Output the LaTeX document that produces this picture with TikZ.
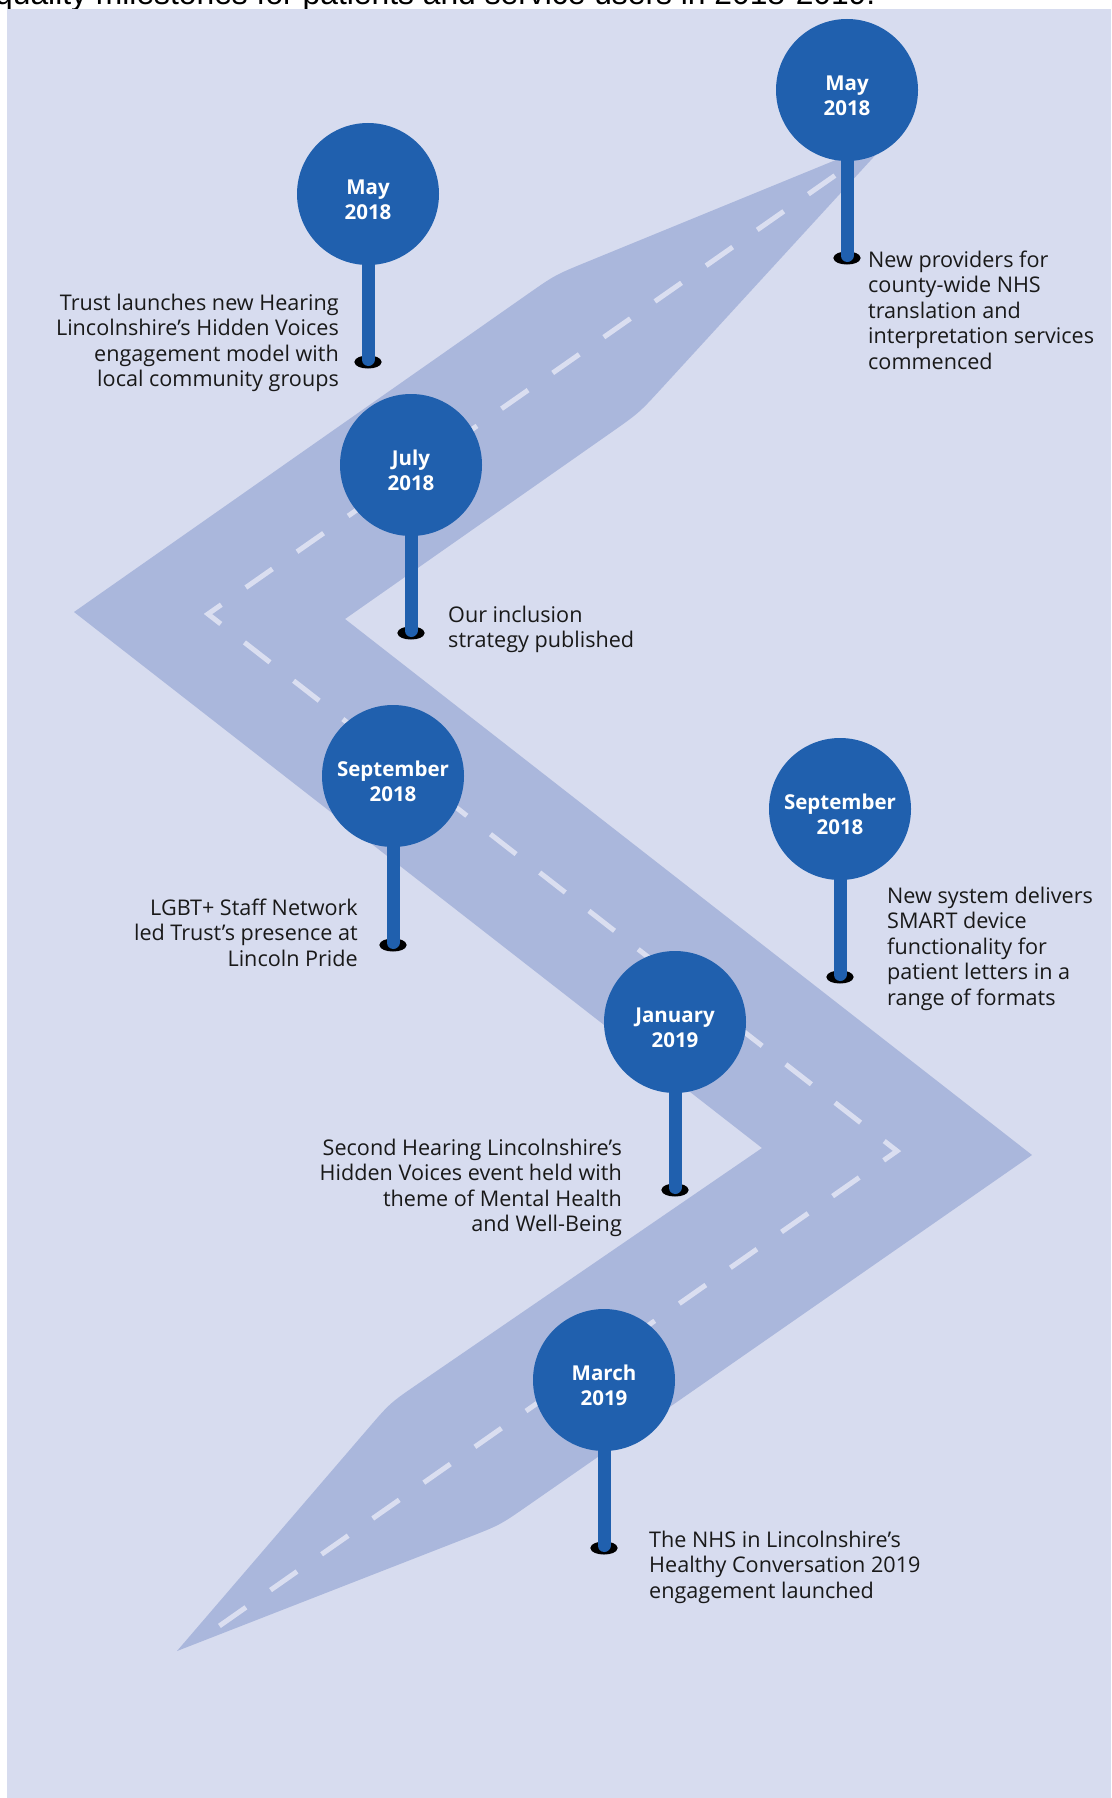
\documentclass[tikz,border=0pt]{standalone}
\usepackage{fontspec}
\setmainfont{Open Sans}
\newfontfamily\topfont{Liberation Sans}
\usetikzlibrary{calc,shapes.geometric}
\definecolor{bgc}{RGB}{215,220,239}
\definecolor{roadc}{RGB}{170,183,220}
\definecolor{dashc}{RGB}{218,222,240}
\definecolor{pinblue}{RGB}{32,96,174}
\definecolor{txt}{RGB}{25,25,25}
\newcommand\capup{\rule{0pt}{27pt}}
\newcommand\lnup{\rule{0pt}{17pt}}
\tikzset{
  pincircle/.style={circle, fill=pinblue, minimum size=142pt, inner sep=0pt, text=white, align=center, font=\bfseries\fontsize{20.5}{25}\selectfont},
  pindot/.style={ellipse, draw=black, fill=black, line width=3pt, minimum width=24pt, minimum height=10pt, inner sep=0pt},
  stem/.style={draw=pinblue, line width=13pt, line cap=round, shorten >=2.5pt},
  notel/.style={anchor=north west, inner sep=0pt, align=left, text=txt, font=\fontsize{21.6}{25.5}\selectfont},
  noter/.style={anchor=north east, inner sep=0pt, align=right, text=txt, font=\fontsize{21.6}{25.5}\selectfont},
  roaddash/.style={draw=dashc, line width=5pt, dash pattern=on 32.4pt off 30pt, dash phase=56.2pt},
}
\begin{document}
\begin{tikzpicture}[x=1pt,y=-1pt]
\useasboundingbox (0,0) rectangle (1111,1798);
\fill[white] (0,0) rectangle (1111,1798);
\node[anchor=base west, inner sep=0pt, text=black, font=\topfont\fontsize{31.8}{36}\selectfont] (title) at (-5,5) {quality milestones for patients and service users in 2018-2019.};
\fill[bgc] (7,9) rectangle (1111,1798);
% road
\coordinate (r1) at (892,137);
\coordinate (r2) at (555,275);
\coordinate (r3) at (74,612);
\coordinate (r4) at (762,1148);
\coordinate (r5) at (390,1403);
\coordinate (r6) at (177,1651);
\coordinate (r7) at (500,1525);
\coordinate (r8) at (1032,1155);
\coordinate (r9) at (345,619);
\coordinate (r10) at (639,413);
\fill[roadc] (r1)
 -- ($(r2)!35pt!(r1)$) .. controls (r2) .. ($(r2)!35pt!(r3)$)
 -- (r3) -- (r4)
 -- ($(r5)!35pt!(r4)$) .. controls (r5) .. ($(r5)!35pt!(r6)$)
 -- (r6)
 -- ($(r7)!35pt!(r6)$) .. controls (r7) .. ($(r7)!35pt!(r8)$)
 -- (r8) -- (r9)
 -- ($(r10)!35pt!(r9)$) .. controls (r10) .. ($(r10)!35pt!(r1)$)
 -- cycle;
\coordinate (c1) at (840,172);
\coordinate (c2) at (208,614);
\coordinate (c3) at (897,1151);
\coordinate (c4) at (205,1636);
\draw[roaddash] (c1) -- (c2) -- (c3) -- (c4);
% pins
\node[pindot] (dA) at (368,362) {};
\node[pincircle] (pA) at (368,194) {\capup May\\2018};
\draw[stem] (pA.south) -- (dA.center);
\node[pindot] (dB) at (847,258) {};
\node[pincircle] (pB) at (847,90) {\capup May\\2018};
\draw[stem] (pB.south) -- (dB.center);
\node[pindot] (dC) at (411,633) {};
\node[pincircle] (pC) at (411,465) {\capup July\\2018};
\draw[stem] (pC.south) -- (dC.center);
\node[pindot] (dD) at (393,945) {};
\node[pincircle] (pD) at (393,776) {\capup September\\2018};
\draw[stem] (pD.south) -- (dD.center);
\node[pindot] (dE) at (840,977) {};
\node[pincircle] (pE) at (840,809) {\capup September\\2018};
\draw[stem] (pE.south) -- (dE.center);
\node[pindot] (dF) at (675,1190) {};
\node[pincircle] (pF) at (675,1022) {\capup January\\2019};
\draw[stem] (pF.south) -- (dF.center);
\node[pindot] (dG) at (604,1548) {};
\node[pincircle] (pG) at (604,1380) {\capup March\\2019};
\draw[stem] (pG.south) -- (dG.center);
% texts
\node[noter] (tA) at (339,293) {\lnup Trust launches new Hearing\\Lincolnshire’s Hidden Voices\\engagement model with\\local community groups};
\node[notel] (tB) at (868,250) {\lnup New providers for\\county-wide NHS\\translation and\\interpretation services\\commenced};
\node[notel] (tC) at (448,605) {\lnup Our inclusion\\strategy published};
\node[noter] (tD) at (358,898) {\lnup LGBT+ Staff Network\\led Trust’s presence at\\Lincoln Pride};
\node[notel] (tE) at (887,886) {\lnup New system delivers\\SMART device\\functionality for\\patient letters in a\\range of formats};
\node[noter] (tF) at (622,1138) {\lnup Second Hearing Lincolnshire’s\\Hidden Voices event held with\\theme of Mental Health\\and Well-Being};
\node[notel] (tG) at (649,1530) {\lnup The NHS in Lincolnshire’s\\Healthy Conversation 2019\\engagement launched};
\end{tikzpicture}
\end{document}
